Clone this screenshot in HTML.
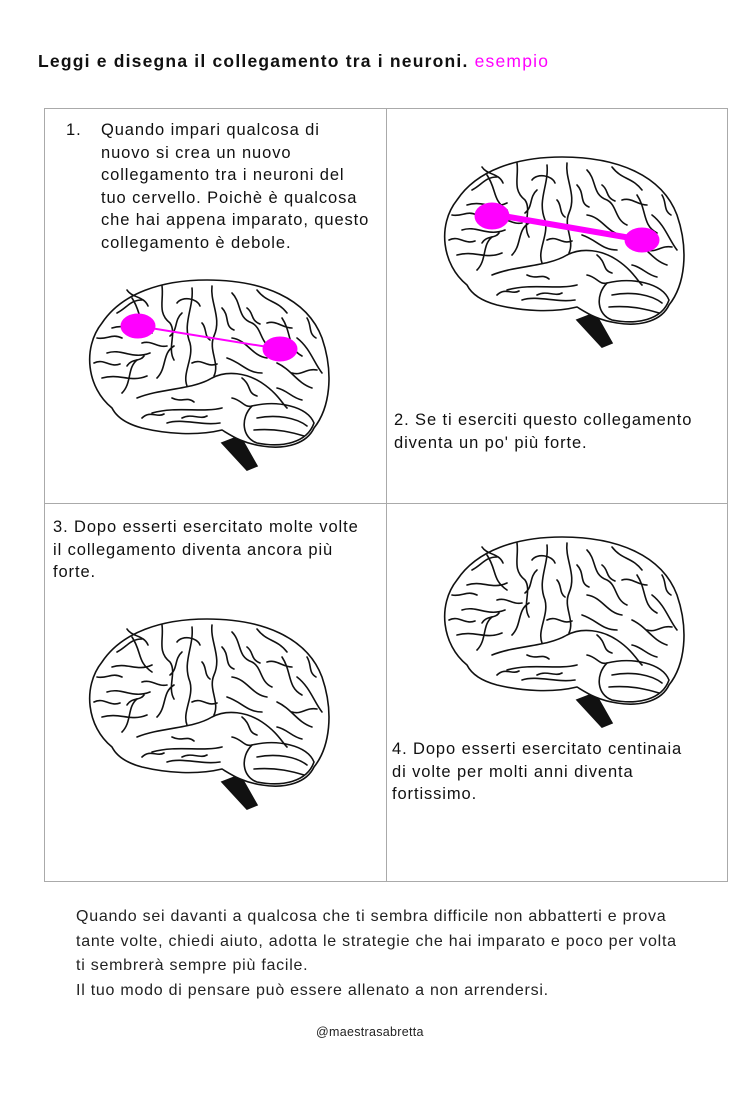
<!DOCTYPE html>
<html><head><meta charset="utf-8"><style>
body{margin:0;width:755px;height:1094px;background:#fff;position:relative;font-family:"Liberation Sans",sans-serif;color:#111;overflow:hidden}
.t{position:absolute;white-space:nowrap}
.cell{position:absolute;font-size:16.5px;line-height:22.5px;color:#111;letter-spacing:0.9px;white-space:nowrap}
</style></head><body>
<svg width="0" height="0" style="position:absolute">
<defs>
<g id="brain" fill="none" stroke="#111" stroke-width="1.6" stroke-linecap="round">
<path d="M140 165 L165 192 L175 188 L158 158 Z" fill="#111" stroke="#111"/>
<path d="M30 130 C5 110 0 70 20 45 C40 15 80 2 125 2 C180 2 225 20 240 60 C252 95 248 130 232 150 C225 165 205 172 180 168 C160 165 150 158 140 152 C115 158 85 156 60 150 C45 146 35 140 30 130 Z" fill="#fff"/>
<path d="M170 128 C195 122 225 128 232 145 C225 165 200 170 175 165 C160 160 158 140 170 128 Z" fill="#fff"/>
<path d="M175 140 C195 136 215 140 225 148 M172 152 C195 150 212 155 222 158"/>
<path d="M55 120 C80 110 110 112 130 100 C145 92 165 95 180 105 C195 115 200 125 205 130"/>
<path d="M70 135 C95 128 120 135 140 130 M85 145 C100 140 120 148 138 145"/>
<path d="M110 10 C112 30 100 45 108 65 C112 80 100 95 105 108"/>
<path d="M130 8 C128 25 140 40 132 58 C126 72 138 85 132 98"/>
<path d="M30 50 C45 45 55 55 70 48 M25 75 C40 70 50 82 68 75 M20 100 C38 95 48 105 65 98"/>
<path d="M50 20 C60 35 55 45 70 55 M80 8 C82 22 75 35 88 45 C95 55 85 70 92 82"/>
<path d="M150 15 C160 25 155 40 170 45 C180 50 178 65 190 70 M175 12 C185 25 195 22 205 35"/>
<path d="M200 40 C210 55 205 70 220 78 M215 60 C228 70 232 85 240 95 M195 85 C210 92 215 105 230 110"/>
<path d="M150 60 C165 62 170 78 185 80 M145 80 C160 85 165 95 180 95"/>
<path d="M40 115 C50 105 45 90 55 82 M75 100 C85 90 80 75 92 68"/>
<path d="M35 35 C45 30 48 22 60 22 M95 25 C100 18 115 20 118 28 M185 45 C195 42 200 50 210 50"/>
<path d="M60 65 C70 62 75 70 85 68 M120 45 C125 50 122 58 128 62 M160 100 C170 108 165 115 175 118"/>
<path d="M90 120 C100 125 105 118 112 124 M60 140 C68 132 75 140 82 136 M195 110 C205 112 210 120 220 122"/>
<path d="M15 60 C25 62 30 55 40 60 M12 85 C22 80 28 90 38 86 M45 12 C50 20 62 18 66 28 M100 35 C92 42 96 52 88 58"/>
<path d="M140 30 C148 38 142 48 152 52 M165 30 C172 35 168 42 178 46 M225 40 C230 48 226 55 234 60 M110 85 C120 80 125 90 135 86"/>
<path d="M45 88 C50 80 58 84 62 78 M210 95 C220 98 224 90 235 92 M150 120 C160 122 162 130 170 128 M100 140 C110 135 118 142 125 138"/>
</g>
</defs></svg>

<div class="t" style="left:38px;top:51px;font-size:17.5px;font-weight:bold;letter-spacing:1.2px">Leggi e disegna il collegamento tra i neuroni. <span style="color:#ff00ff;font-weight:normal">esempio</span></div>

<div style="position:absolute;left:44px;top:108px;width:682px;height:772px;border:1px solid #aaa"></div>
<div style="position:absolute;left:386px;top:108px;width:1px;height:773px;background:#aaa"></div>
<div style="position:absolute;left:44px;top:503px;width:683px;height:1px;background:#aaa"></div>

<div class="cell" style="left:66px;top:119px">1.</div>
<div class="cell" style="left:101px;top:119px">Quando impari qualcosa di<br>nuovo si crea un nuovo<br>collegamento tra i neuroni del<br>tuo cervello. Poichè è qualcosa<br>che hai appena imparato, questo<br>collegamento è debole.</div>
<div class="cell" style="left:394px;top:409px">2. Se ti eserciti questo collegamento<br>diventa un po' più forte.</div>
<div class="cell" style="left:53px;top:516px">3. Dopo esserti esercitato molte volte<br>il collegamento diventa ancora più<br>forte.</div>
<div class="cell" style="left:392px;top:738px">4. Dopo esserti esercitato centinaia<br>di volte per molti anni diventa<br>fortissimo.</div>

<svg style="position:absolute;left:0;top:0" width="755" height="1094">
<use href="#brain" transform="translate(82,278)"/>
<use href="#brain" transform="translate(437,155)"/>
<use href="#brain" transform="translate(82,617)"/>
<use href="#brain" transform="translate(437,535)"/>
<g fill="#ff00ff" stroke="#ff00ff">
<line x1="138" y1="326" x2="280" y2="349" stroke-width="2"/>
<ellipse cx="138" cy="326" rx="17" ry="12"/>
<ellipse cx="280" cy="349" rx="17" ry="12"/>
<line x1="492" y1="214" x2="642" y2="240" stroke-width="6"/>
<ellipse cx="492" cy="216" rx="17" ry="13"/>
<ellipse cx="642" cy="240" rx="17" ry="12"/>
</g>
</svg>

<div class="t" style="left:76px;top:905px;font-size:16px;line-height:24.5px;color:#222;letter-spacing:0.75px">Quando sei davanti a qualcosa che ti sembra difficile non abbatterti e prova<br>tante volte, chiedi aiuto, adotta le strategie che hai imparato e poco per volta<br>ti sembrerà sempre più facile.<br>Il tuo modo di pensare può essere allenato a non arrendersi.</div>
<div class="t" style="left:316px;top:1025px;font-size:12.5px;color:#222;letter-spacing:0.3px">@maestrasabretta</div>
</body></html>
